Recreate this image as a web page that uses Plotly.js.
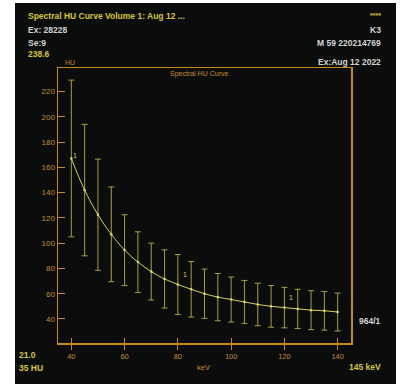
<!DOCTYPE html>
<html><head><meta charset="utf-8">
<script src="https://cdn.plot.ly/plotly-3.0.1.min.js"></script>
<style>
html,body{margin:0;padding:0;background:#fff;width:401px;height:390px;overflow:hidden;}
#bg{position:absolute;left:15px;top:3px;width:381px;height:381px;background:#0b0d0d;}
#chart{position:absolute;left:0;top:0;width:401px;height:390px;}
</style></head>
<body><div id="bg"></div><div id="chart"></div>
<script>
const energies = [40,45,50,55,60,65,70,75,80,85,90,95,100,105,110,115,120,125,130,135,140];
const meanHU = [167,142,122.5,107,94.5,85,77.5,71.7,67.3,63.5,60,57.3,55.4,53.5,51.5,50,49,48,47,46.5,45.5];
const sdHU = [62,52,44,37.5,28,24,22.5,23,23.7,22,19.5,18.7,17.8,17,16.8,16.5,16,15.5,15.4,15.3,15];
const xTicks = [40,60,80,100,120,140];
const yTicks = [40,60,80,100,120,140,160,180,200,220];
const xRange = [35,145];
const yRange = [21.0,238.6];
const curveLabels = [{x:40,y:169.5},{x:81,y:75},{x:121,y:57}];

const axisColor = '#c8891f';
const tickFontColor = '#c48c32';
const yellow = '#d6c634';
const grey = '#d2d2d2';
const FONT = 'Liberation Sans, Arial, sans-serif';

const traces = [{
  x: energies, y: meanHU, type:'scatter', mode:'lines+markers',
  line:{color:'#d2d25a', width:1, shape:'spline'},
  marker:{color:'#dede66', size:2.5},
  error_y:{type:'data', array:sdHU, visible:true, color:'#a99e38', thickness:1, width:3},
  hoverinfo:'skip'
},{
  x:[], y:[], xaxis:'x2', yaxis:'y', type:'scatter', mode:'markers', hoverinfo:'skip'
}];

const ann = [];
function txt(t,x,y,opts){
  ann.push(Object.assign({text:t, x:x, y:y, xref:'paper', yref:'paper', showarrow:false,
    font:{family:FONT, size:10, color:grey}, xanchor:'left', yanchor:'middle'}, opts||{}));
}
const L=58, R=351, T=68, B=343;
const px = x => (x-L)/(R-L);
const py = y => (B-y)/(B-T);
const bold = (c,s) => ({family:FONT, size:s||8.5, color:c, weight:'bold'});
txt('<b>Spectral HU Curve Volume 1: Aug 12 ...</b>', px(26), py(16), {font:bold(yellow)});
txt('<b>Ex: 28228</b>', px(26), py(29.5), {font:bold(grey)});
txt('<b>Se:9</b>', px(26), py(43), {font:bold(grey)});
txt('<b>238.6</b>', px(26), py(53.5), {font:bold(yellow)});
txt('<b>****</b>', px(383), py(15), {font:bold(yellow,7), xanchor:'right'});
txt('<b>K3</b>', px(383), py(29.5), {font:bold(grey), xanchor:'right'});
txt('<b>M 59 220214769</b>', px(383), py(43), {font:bold(grey), xanchor:'right'});
txt('<b>Ex:Aug 12 2022</b>', px(383), py(62), {font:bold(grey), xanchor:'right'});
txt('HU', px(63), py(62), {font:{family:FONT, size:7, color:tickFontColor}});
txt('Spectral HU Curve', px(199), py(74), {font:{family:FONT, size:7, color:tickFontColor}, xanchor:'center'});
txt('<b>21.0</b>', px(17), py(355), {font:bold(yellow)});
txt('<b>35 HU</b>', px(17), py(368), {font:bold(yellow)});
txt('<b>145 keV</b>', px(383), py(367), {font:bold(yellow), xanchor:'right'});
txt('<b>964/1</b>', px(383), py(321), {font:bold(grey), xanchor:'right'});
txt('keV', px(203), py(367), {font:{family:FONT, size:7.5, color:tickFontColor}, xanchor:'center'});
curveLabels.forEach(c => ann.push({text:'1', x:c.x, y:c.y, xref:'x', yref:'y', showarrow:false,
  xanchor:'left', yanchor:'middle', font:{family:FONT, size:7, color:'#d8d060'}}));

const layout = {
  width:401, height:390,
  margin:{l:L, r:401-R, t:T, b:390-B, pad:0},
  paper_bgcolor:'rgba(0,0,0,0)', plot_bgcolor:'rgba(0,0,0,0)',
  showlegend:false,
  xaxis:{range:xRange, tickvals:xTicks, ticktext:xTicks.map(String), ticks:'outside', ticklen:5, tickwidth:1, tickcolor:axisColor,
    showline:true, linecolor:axisColor, linewidth:1.5, mirror:true, showgrid:false, zeroline:false,
    tickfont:{family:FONT, size:7.5, color:tickFontColor}},
  xaxis2:{range:xRange, overlaying:'x', anchor:'y', side:'bottom', tickvals:xTicks, ticks:'inside', ticklen:5, tickwidth:1, tickcolor:axisColor,
    showticklabels:false, showline:false, showgrid:false, zeroline:false},
  yaxis:{range:yRange, tickvals:yTicks, ticktext:yTicks.map(String), ticks:'inside', ticklen:7, tickwidth:1, tickcolor:axisColor,
    showline:true, linecolor:axisColor, linewidth:1.5, mirror:true, showgrid:false, zeroline:false,
    tickfont:{family:FONT, size:8, color:tickFontColor}},
  annotations: ann
};
Plotly.newPlot('chart', traces, layout, {staticPlot:true, displayModeBar:false});
</script></body></html>
